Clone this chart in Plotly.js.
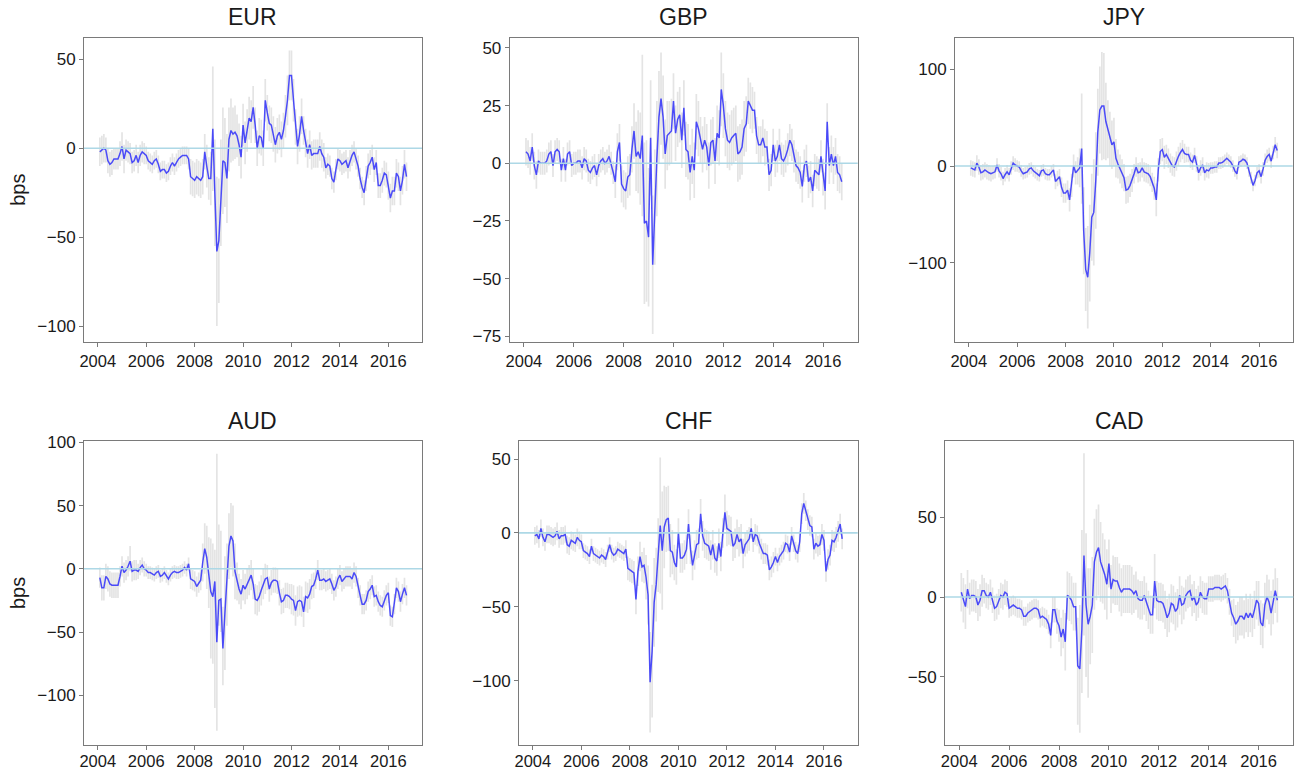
<!DOCTYPE html>
<html>
<head>
<meta charset="utf-8">
<script src="https://cdn.plot.ly/plotly-3.0.1.min.js"></script>
<style>
html,body{margin:0;padding:0;background:#fff;}
#chart{width:1295px;height:772px;}
</style>
</head>
<body>
<div id="chart"></div>
<script>
// Monthly observations, Feb 2004 .. Oct 2016 (153 months)
const startYear = 2004, startMonth = 2, nMonths = 153;
const currencies = ["EUR", "GBP", "JPY", "AUD", "CHF", "CAD"];
const xTickYears = [2004, 2006, 2008, 2010, 2012, 2014, 2016];

// ---- EUR (bps) ----
const eur = [
 -2,-1,0,-1,-7,-9,-8,-6,-6,-6,-3,
 1,-6,-1,-2,-3,-8,-7,-4,-8,-4,-2,-3,
 -4,-7,-8,-9,-7,-6,-9,-13,-12,-12,-14,-13,
 -10,-8,-10,-8,-6,-5,-4,-4,-4,-6,-16,-17,
 -18,-16,-17,-18,-16,-2,-10,-17,-17,11,-25,-58,
 -52,-25,-7,-8,-17,5,10,8,9,7,2,-5,
 13,3,10,17,15,23,13,0,7,6,0,27,
 20,14,13,8,2,7,9,5,10,18,27,41,
 41,27,12,1,8,18,10,3,-3,2,-4,-3,
 -3,-3,1,-3,-5,-11,-9,-10,-17,-19,-12,-6,
 -7,-9,-8,-7,-11,-7,-4,-2,-6,-10,-17,-22,
 -25,-17,-10,-8,-5,-12,-8,-21,-21,-18,-14,-15,
 -21,-28,-24,-24,-14,-16,-24,-18,-9,-16];
const eurErr = [
 8,8,8,7,7,7,7,6,6,6,7,
 8,8,6,6,6,6,6,6,6,6,6,6,
 5,5,5,5,5,5,5,5,5,5,5,5,
 5,5,5,5,5,5,5,5,5,6,10,10,
 10,10,10,10,10,10,12,12,15,35,30,42,
 35,30,30,25,25,18,18,15,15,12,12,12,
 12,12,12,12,12,12,10,10,10,10,10,12,
 10,10,10,10,10,10,10,10,10,12,14,14,
 14,12,10,10,10,10,8,8,8,8,8,8,
 8,8,8,8,8,6,6,6,6,6,6,6,
 6,6,6,6,6,6,6,6,6,6,6,6,
 7,7,7,7,7,7,7,7,7,7,7,7,
 8,8,8,8,8,8,8,8,8,8];

// ---- GBP ----
const gbp = [
 5,4,1,7,-1,-5,1,0,0,0,1,
 4,5,-1,5,6,5,-3,2,-3,4,5,-1,
 0,0,1,1,-2,2,1,-3,-4,-2,-1,-5,
 -1,1,2,0,1,3,0,-4,-8,5,9,-9,
 -11,-12,-6,-5,6,14,3,5,2,12,-26,-25,
 -32,11,-44,-19,2,20,28,20,4,12,13,14,
 27,13,19,21,10,24,6,5,-4,3,-3,18,
 15,10,6,10,7,-1,9,10,1,13,11,32,
 25,15,10,9,11,12,13,4,5,7,15,17,
 27,25,23,23,12,8,8,11,7,7,-5,-3,
 8,1,3,8,2,1,3,6,10,8,3,-1,
 -2,-4,-10,-1,1,-8,-6,-12,-3,-4,-5,3,
 -6,-12,18,-1,4,-1,3,-4,-5,-8];
const gbpErr = [
 6,6,6,6,6,6,5,5,5,5,5,
 5,5,5,5,5,5,5,5,5,5,5,5,
 5,5,5,5,5,5,5,5,5,5,5,5,
 5,5,5,5,5,5,5,5,7,8,8,8,
 8,8,9,9,10,12,15,18,20,35,35,35,
 30,25,30,25,25,20,20,18,15,15,14,14,
 12,12,12,12,12,12,12,12,12,12,12,12,
 12,10,10,10,10,10,10,10,10,12,12,16,
 14,12,12,12,12,12,12,12,12,12,12,12,
 10,10,10,8,8,8,8,8,8,7,7,7,
 7,7,7,7,7,7,7,7,7,7,7,7,
 7,7,7,7,7,7,7,7,7,7,7,7,
 8,8,8,8,8,8,8,8,8,8];

// ---- JPY ----
const jpy = [
 -2,-3,-4,3,-1,-7,-6,-4,-6,-7,-8,
 -7,-6,1,-5,-8,-13,-9,-6,-9,-2,3,1,
 0,-1,-5,-8,-7,-6,-3,-2,-5,-7,-9,-10,
 -5,-4,-8,-9,-9,-6,-4,-16,-13,-11,-22,-28,
 -28,-25,-35,-20,0,-7,-5,-2,18,-67,-107,-115,
 -90,-53,-48,-15,35,58,62,62,46,38,28,22,
 25,8,2,-3,-8,-12,-25,-24,-20,-15,-8,-1,
 -7,-6,-2,-6,-7,-8,-11,-17,-23,-35,-4,15,
 17,9,12,8,3,0,-1,5,10,14,17,13,
 12,12,6,4,11,2,-7,-2,1,-7,-4,-5,
 -2,-2,-1,-1,3,3,4,6,8,6,4,0,
 -5,-8,4,5,7,6,3,-5,-12,-20,-15,-7,
 -5,-11,-3,6,10,12,5,14,22,16];
const jpyErr = [
 8,8,8,8,8,8,8,8,8,8,8,
 7,7,7,7,7,7,7,7,7,7,7,7,
 6,6,6,6,6,6,6,6,6,6,6,6,
 6,6,6,6,6,6,6,8,8,8,10,10,
 10,10,12,12,12,12,14,20,57,45,43,53,
 50,45,55,50,45,45,56,55,40,30,28,25,
 25,20,15,15,15,14,14,14,12,12,10,10,
 10,10,10,10,10,10,10,10,12,17,12,13,
 12,12,10,10,10,10,10,10,10,10,10,10,
 8,8,8,8,8,8,8,8,8,8,8,8,
 6,6,6,6,6,6,6,6,6,6,6,6,
 6,6,6,6,6,6,6,6,6,6,6,6,
 7,7,7,7,7,7,7,7,8,8];

// ---- AUD ----
const aud = [
 -7,-15,-15,-6,-8,-12,-13,-13,-13,-13,-6,
 2,-3,-1,2,6,-2,-1,-1,-2,1,3,0,
 -1,-3,-3,-4,-5,-3,-2,-6,-5,-3,-6,-8,
 -5,-3,-2,-3,-3,-2,-1,1,-1,4,-8,-9,
 -10,-14,-11,-9,5,16,9,-3,-18,-22,-10,-58,
 -25,-24,-63,-35,-10,18,26,22,-2,-10,-16,-20,
 -13,-16,-12,-9,-5,-12,-24,-25,-22,-17,-12,-8,
 -7,-16,-11,-9,-9,-10,-19,-26,-25,-21,-21,-22,
 -24,-25,-33,-26,-25,-26,-34,-22,-23,-20,-14,-13,
 -8,-1,-9,-9,-8,-10,-9,-8,-12,-17,-14,-8,
 -5,-10,-8,-6,-6,-6,-8,-3,-6,-15,-21,-28,
 -28,-25,-18,-16,-13,-22,-21,-26,-29,-30,-25,-21,
 -19,-37,-38,-28,-15,-18,-26,-20,-15,-21];
const audErrUp = [
 8,10,10,10,10,10,10,10,10,10,8,
 8,8,8,8,12,8,8,8,6,6,6,6,
 5,5,5,5,5,5,5,5,5,5,5,5,
 5,5,5,5,5,5,5,5,5,5,8,8,
 8,8,8,8,15,20,25,28,42,42,25,149,
 60,54,33,45,30,26,26,28,22,15,12,12,
 12,12,12,12,12,12,12,12,12,12,12,12,
 10,10,10,10,10,10,10,10,10,10,10,10,
 12,12,12,12,12,12,12,12,12,12,10,10,
 8,8,8,8,8,8,8,8,8,8,8,8,
 8,8,8,8,8,8,8,8,8,8,8,8,
 8,8,8,8,8,8,8,8,8,8,8,8,
 8,8,8,8,8,8,8,8,8,8];
const audErrDn = [
 8,10,10,10,10,10,10,10,10,10,8,
 8,8,8,8,8,8,8,8,6,6,6,6,
 5,5,5,5,5,5,5,5,5,5,5,5,
 5,5,5,5,5,5,5,5,5,5,8,8,
 8,8,8,8,15,20,25,28,53,53,100,70,
 20,26,29,45,35,26,25,28,22,15,12,12,
 12,12,12,12,12,12,12,12,12,12,12,12,
 10,10,10,10,10,10,10,10,10,10,10,10,
 12,12,12,12,12,12,12,12,12,12,10,10,
 8,8,8,8,8,8,8,8,8,8,8,8,
 8,8,8,8,8,8,8,8,8,8,8,8,
 8,8,8,8,8,8,8,8,8,8,8,8,
 8,8,8,8,8,8,8,8,8,8];

// ---- CHF ----
const chf = [
 -2,-1,-4,3,-3,-6,-1,-1,-2,-3,-2,
 1,-4,-2,-2,-1,-8,-9,-5,-6,-7,-3,-5,
 -6,-12,-13,-14,-16,-9,-14,-15,-16,-17,-15,-16,
 -18,-13,-8,-13,-15,-14,-11,-12,-13,-14,-11,-24,
 -25,-26,-27,-45,-26,-16,-23,-22,-30,-42,-101,-80,
 -47,-35,-15,5,-12,4,9,10,-12,-13,-20,-23,
 0,-17,-17,-15,-11,6,-11,-22,-15,-8,-7,13,
 -2,-7,-8,-9,-15,-8,-17,-19,-7,-16,0,14,
 3,2,1,-9,-7,-1,-6,-4,-14,-8,-6,-4,
 3,-6,-1,-2,-7,-11,-14,-14,-15,-25,-23,-20,
 -16,-20,-16,-14,-12,-7,-8,-13,-2,-7,-12,-14,
 -6,13,20,15,9,5,4,-11,-7,-9,-8,-1,
 -5,-26,-18,-15,-5,-6,-3,1,6,-4];
const chfErr = [
 6,6,6,6,6,6,6,6,6,6,6,
 6,6,6,6,6,6,6,6,6,6,6,6,
 5,5,5,5,5,5,5,5,5,5,5,5,
 5,5,5,5,5,5,5,5,5,5,6,8,
 8,8,8,10,10,10,10,12,15,20,34,45,
 30,25,25,46,40,28,22,22,18,15,12,12,
 10,10,10,10,10,10,10,10,10,10,10,10,
 10,10,10,10,10,10,10,10,10,10,10,12,
 12,10,10,10,10,10,10,10,10,8,8,8,
 7,7,7,7,7,7,7,7,7,7,7,7,
 6,6,6,6,6,6,6,6,6,6,6,6,
 7,7,7,7,7,7,7,7,7,7,7,7,
 7,7,7,7,7,7,7,7,7,7];

// ---- CAD ----
const cad = [
 3,-2,-6,5,-1,1,1,0,-5,-2,4,
 4,1,0,3,-2,-7,-6,-3,1,0,3,2,
 -7,-6,-5,-6,-7,-7,-8,-12,-12,-10,-9,-8,
 -7,-7,-8,-13,-12,-13,-14,-17,-24,-8,-8,-15,
 -18,-25,-20,-28,1,0,-2,-6,-6,-43,-45,-20,
 26,-5,-17,-12,-5,22,28,31,22,18,14,8,
 21,5,11,10,10,6,3,5,5,5,5,4,
 2,4,-1,-2,-2,1,-3,-8,-11,-11,10,-2,
 -3,-3,-4,-8,-13,-10,-4,-5,-9,-7,1,-5,
 -4,1,3,4,-2,0,-5,-3,3,0,-1,-1,
 5,5,5,6,6,6,5,6,7,4,-3,-10,
 -13,-17,-15,-12,-12,-14,-10,-13,-10,-13,-8,-2,
 -4,-16,-18,-5,0,-3,-10,-3,4,-2];
const cadErrUp = [
 12,14,14,12,10,10,10,10,10,10,10,
 8,8,8,8,8,8,8,8,8,8,8,8,
 6,6,6,6,6,6,6,6,6,6,6,6,
 6,6,6,6,6,6,6,6,8,8,8,8,
 10,12,12,18,15,15,15,15,15,30,40,62,
 64,45,35,30,30,27,27,27,25,22,22,22,
 15,15,15,15,15,15,15,15,15,15,15,15,
 12,12,12,12,12,12,12,12,12,12,17,12,
 12,12,12,12,12,12,12,12,12,12,12,12,
 10,10,10,10,10,10,10,10,10,10,10,10,
 8,8,8,8,8,8,8,8,8,8,8,8,
 12,12,12,12,12,12,12,12,12,12,12,12,
 14,14,14,14,14,14,14,14,14,14];
const cadErrDn = [
 12,14,14,12,10,10,10,10,10,10,10,
 8,8,8,8,8,8,8,8,8,8,8,8,
 6,6,6,6,6,6,6,6,6,6,6,6,
 6,6,6,6,6,6,6,6,8,8,8,8,
 10,12,12,18,15,15,15,15,15,37,40,40,
 50,45,46,30,30,30,30,30,25,22,22,22,
 15,15,15,15,15,15,15,15,15,15,15,15,
 12,12,12,12,12,12,12,12,12,12,17,12,
 12,12,12,12,12,12,12,12,12,12,12,12,
 10,10,10,10,10,10,10,10,10,10,10,10,
 8,8,8,8,8,8,8,8,8,8,8,8,
 12,12,12,12,12,12,12,12,12,12,12,12,
 14,14,14,14,14,14,14,14,14,14];

// time axis (decimal years) for each month
const months = [];
for (let k = 0; k < nMonths; k++) months.push(startYear + (startMonth - 1 + k) / 12);

const series = {
  EUR: {y: eur, up: eurErr, dn: eurErr},
  GBP: {y: gbp, up: gbpErr, dn: gbpErr},
  JPY: {y: jpy, up: jpyErr, dn: jpyErr},
  AUD: {y: aud, up: audErrUp, dn: audErrDn},
  CHF: {y: chf, up: chfErr, dn: chfErr},
  CAD: {y: cad, up: cadErrUp, dn: cadErrDn}
};

// ---- layout geometry (pixels of the 1295x772 figure) ----
const W = 1295, H = 772;
const boxes = {
  EUR: {x0: 84,    x1: 422,    y0: 37.7,  y1: 341.7, yr: [-108.8, 62.2],  dt: 50},
  GBP: {x0: 509.7, x1: 857.7,  y0: 37.7,  y1: 341.7, yr: [-77.3, 54.4],   dt: 25},
  JPY: {x0: 955,   x1: 1292.7, y0: 37.7,  y1: 341.7, yr: [-181.7, 132.7], dt: 100},
  AUD: {x0: 84,    x1: 422,    y0: 441.3, y1: 744.5, yr: [-138.9, 100.8], dt: 50},
  CHF: {x0: 519,   x1: 857.7,  y0: 441.3, y1: 744.5, yr: [-143.2, 62],    dt: 50},
  CAD: {x0: 945,   x1: 1293.3, y0: 441.3, y1: 744.5, yr: [-92.3, 97.5],   dt: 50}
};
const titleY = {row1: 17.5, row2: 421};
const FONT = '"Liberation Sans", Arial, Helvetica, sans-serif';

const data = [];
const layout = {
  width: W, height: H,
  margin: {l: 0, r: 0, t: 0, b: 0},
  paper_bgcolor: '#ffffff', plot_bgcolor: '#ffffff',
  showlegend: false,
  font: {family: FONT, size: 17, color: '#1a1a1a'},
  annotations: [], shapes: []
};

currencies.forEach((c, i) => {
  const n = i + 1;
  const xa = 'x' + (n === 1 ? '' : n), ya = 'y' + (n === 1 ? '' : n);
  const b = boxes[c], s = series[c];
  data.push({
    type: 'scatter', mode: 'markers', x: months, y: s.y, xaxis: xa, yaxis: ya,
    marker: {size: 1, color: 'rgba(0,0,0,0)'},
    error_y: {type: 'data', symmetric: false, array: s.up, arrayminus: s.dn,
              color: '#e4e4e4', thickness: 1.7, width: 0},
    hoverinfo: 'skip'
  });
  data.push({
    type: 'scatter', mode: 'lines', x: months, y: s.y, xaxis: xa, yaxis: ya,
    line: {color: 'rgba(0,0,255,0.68)', width: 1.5}, name: c
  });
  const common = {
    showline: true, mirror: true, linecolor: '#7a7a7a', linewidth: 1,
    ticks: 'outside', ticklen: 4, tickcolor: '#7a7a7a', tickwidth: 1,
    showgrid: false, zeroline: false, fixedrange: true,
    tickfont: {family: FONT, size: 17, color: '#1a1a1a'}
  };
  layout['xaxis' + (n === 1 ? '' : n)] = Object.assign({}, common, {
    domain: [b.x0 / W, b.x1 / W], anchor: ya,
    range: [2003.43, 2017.39], tickmode: 'array', tickvals: xTickYears,
    ticktext: xTickYears.map(String),
    ticklabelstandoff: n > 3 ? -2 : 0,
    tickfont: {family: FONT, size: 16.5, color: '#1a1a1a'}
  });
  const yax = Object.assign({}, common, {
    domain: [1 - b.y1 / H, 1 - b.y0 / H], anchor: xa,
    range: b.yr, tick0: 0, dtick: b.dt
  });
  if (c === 'EUR' || c === 'AUD') {
    yax.title = {text: 'bps', font: {family: FONT, size: 20, color: '#1a1a1a'}, standoff: 6};
  }
  layout['yaxis' + (n === 1 ? '' : n)] = yax;
  layout.annotations.push({
    text: c, xref: 'paper', yref: 'paper', showarrow: false,
    x: (b.x0 + b.x1) / 2 / W, y: 1 - (n <= 3 ? titleY.row1 : titleY.row2) / H,
    xanchor: 'center', yanchor: 'middle',
    font: {family: FONT, size: 23, color: '#1a1a1a'}
  });
  layout.shapes.push({
    type: 'line', xref: xa + ' domain', yref: ya, x0: 0, x1: 1, y0: 0, y1: 0,
    line: {color: '#add8e6', width: 1.6}, layer: 'above'
  });
});

Plotly.newPlot('chart', data, layout, {displayModeBar: false, staticPlot: true});
</script>
</body>
</html>
